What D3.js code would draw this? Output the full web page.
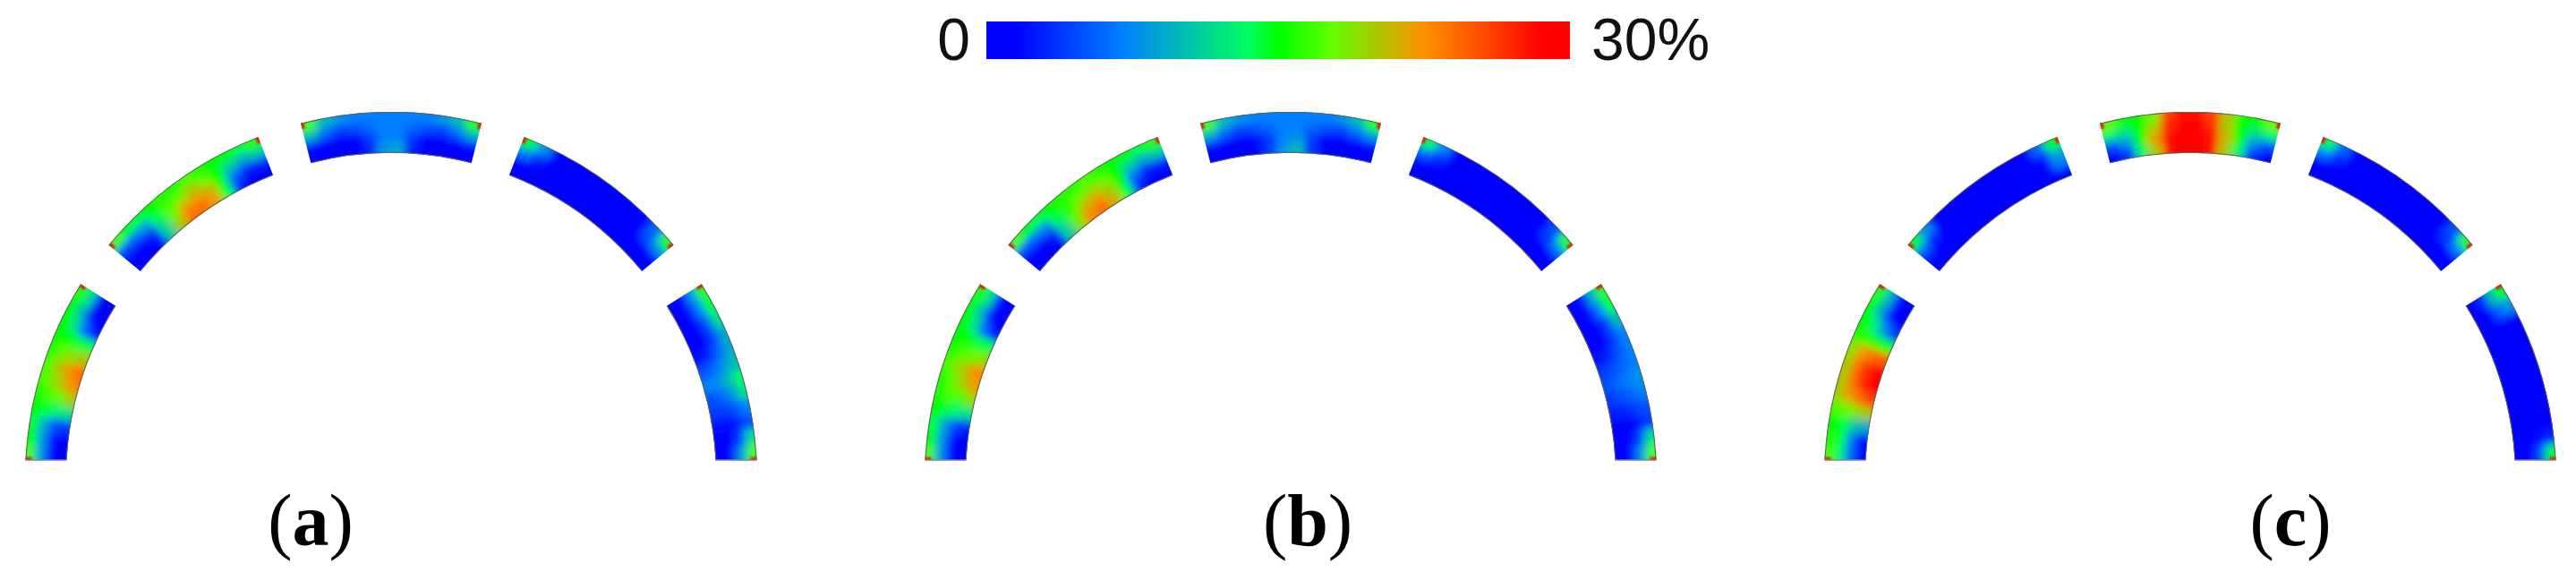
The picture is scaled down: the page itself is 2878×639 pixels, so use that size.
<!DOCTYPE html>
<html>
<head>
<meta charset="utf-8">
<style>
  html, body { margin: 0; background: #fff; }
  svg { display: block; }
</style>
</head>
<body>
<div class="chart"></div>
<script src="https://cdn.jsdelivr.net/npm/d3@7"></script>
<script>
// strain values in %, one array per arc segment
// rows run outer edge -> inner edge, columns run clockwise along the arc
const a1 = [[17,8,2,1],[15,8,2,1],[14,9,5,4],[15,14,13,12],[16,17,18,20],[17,19,21,23],[17,20,22,24],[16,18,19,20],[15,15,14,14],[15,12,6,2],[15,10,2,1],[16,12,2,1]];
const a2 = [[17,5,1,0],[15,6,1,0],[14,8,3,1],[15,14,12,11],[16,17,18,20],[16,18,22,24],[17,20,22,24],[16,18,21,22],[15,15,15,14],[15,11,6,3],[14,9,3,1],[16,11,3,1]];
const a3 = [[17,10,2,0],[10,6,1,0],[8,4,0,0],[7,5,1,0],[7,6,4,3],[7,7,7,8],[7,7,7,9],[7,6,4,3],[7,5,1,0],[8,4,0,0],[10,6,1,0],[16,9,2,0]];
const a4 = [[15,7,1,0],[8,3,0,0],[1,0,0,0],[0,0,0,0],[0,0,0,0],[0,0,0,0],[0,0,0,0],[0,0,0,0],[0,0,0,0],[1,0,0,0],[6,5,1,0],[16,8,1,0]];
const a5 = [[16,8,2,0],[14,7,2,1],[12,5,1,0],[9,4,1,1],[9,6,3,2],[10,8,6,5],[13,10,8,7],[12,8,6,5],[7,5,4,4],[5,3,2,2],[12,4,1,1],[17,8,2,1]];

const b1 = [[17,8,2,1],[15,8,2,1],[14,9,5,3],[15,14,13,12],[16,17,17,19],[16,18,20,22],[17,19,21,23],[16,17,18,19],[15,15,14,14],[15,12,6,2],[15,10,2,1],[16,12,2,1]];
const b2 = [[17,5,1,0],[15,6,1,0],[14,8,3,1],[15,14,12,11],[16,16,17,19],[16,18,21,23],[17,19,22,24],[16,18,20,21],[15,15,15,14],[15,11,6,3],[14,9,3,1],[16,11,3,1]];
const b3 = [[17,9,2,0],[10,6,1,0],[8,4,0,0],[7,5,1,0],[7,6,4,4],[7,7,7,8],[7,7,8,10],[7,6,4,4],[7,5,1,0],[8,4,0,0],[10,6,1,0],[16,8,2,0]];
const b4 = [[14,6,1,0],[7,3,0,0],[1,0,0,0],[0,0,0,0],[0,0,0,0],[0,0,0,0],[0,0,0,0],[0,0,0,0],[0,0,0,0],[0,0,0,0],[5,4,1,0],[16,7,1,0]];
const b5 = [[16,9,2,0],[14,7,2,1],[10,4,1,0],[7,4,1,0],[7,5,3,2],[7,6,5,4],[8,7,6,5],[7,6,5,4],[5,4,3,3],[4,2,1,1],[12,4,1,1],[17,8,2,1]];

const c1 = [[17,13,6,1],[16,14,6,2],[15,14,11,9],[17,18,19,20],[20,22,24,26],[20,24,27,29],[20,24,27,29],[19,22,24,25],[16,16,15,15],[15,13,8,4],[15,9,2,1],[16,10,2,0]];
const c2 = [[15,6,2,1],[8,3,1,0],[1,1,0,0],[0,0,0,0],[0,0,0,0],[0,0,0,0],[0,0,0,0],[0,0,0,0],[0,0,0,0],[1,0,0,0],[6,2,0,0],[15,9,7,1]];
const c3 = [[18,13,5,1],[15,12,8,4],[15,15,15,13],[18,20,22,20],[26,27,28,28],[28,30,30,30],[28,30,30,30],[26,27,28,28],[20,20,21,20],[15,15,15,13],[15,12,8,4],[18,13,5,1]];
const c4 = [[14,7,1,0],[6,3,0,0],[0,0,0,0],[0,0,0,0],[0,0,0,0],[0,0,0,0],[0,0,0,0],[0,0,0,0],[0,0,0,0],[0,0,0,0],[5,4,0,0],[16,7,1,0]];
const c5 = [[15,10,3,0],[8,6,1,0],[1,0,0,0],[0,0,0,0],[0,0,0,0],[0,0,0,0],[0,0,0,0],[0,0,0,0],[0,0,0,0],[0,0,0,0],[3,2,0,0],[15,5,1,0]];

const panels = [[a1, a2, a3, a4, a5], [b1, b2, b3, b4, b5], [c1, c2, c3, c4, c5]];
const panelLetters = ["a", "b", "c"];

// segment ends in degrees from the top of the arch
const segStart = [-87.2, -50.5, -14.3, 21.3, 58];
const segEnd = [-58, -21.3, 14.3, 50.5, 87.2];

const legendLabels = ["0", "30%"];
const colorDomain = [0, 1.5, 7, 11.5, 13.5, 15, 17.7, 20, 22.5, 26, 28.5, 30];
const colorRange = ["#0000ff", "#0000ff", "#0080ff", "#00d890", "#00ff60", "#00ff00", "#60ff00", "#a8c800", "#ff9000", "#ff4000", "#ff0000", "#ff0000"];

const width = 2878;
const height = 639;
const centerX = d3.scalePoint().domain(panelLetters).range([437, 2447]);
const centerY = 534;
const baseY = 514;
const rOuter = 409;
const rInner = 363;

const colorScale = d3.scaleLinear().domain(colorDomain).range(colorRange).clamp(true);
const rad = d3.scaleLinear().domain([0, 180]).range([0, Math.PI]);

const svg = d3.select(".chart").append("svg")
    .attr("width", width)
    .attr("height", height);

const defs = svg.append("defs");

defs.append("filter")
    .attr("id", "soft")
    .append("feGaussianBlur")
    .attr("stdDeviation", 5);

defs.append("filter")
    .attr("id", "softCorner")
    .append("feGaussianBlur")
    .attr("stdDeviation", 0.8);

// everything under the flat foot of the arch is cut away
defs.append("clipPath")
    .attr("id", "foot")
    .append("rect")
    .attr("x", -rOuter - 20)
    .attr("y", -rOuter - 20)
    .attr("width", 2 * rOuter + 40)
    .attr("height", rOuter + 20 + baseY - centerY);

const arc = d3.arc();

function segPath(i) {
    // the two end segments run past the foot, the clip trims them flat
    const s = i === 0 ? -95 : segStart[i];
    const e = i === 4 ? 95 : segEnd[i];
    return arc({
        innerRadius: rInner,
        outerRadius: rOuter,
        startAngle: rad(s),
        endAngle: rad(e)
    });
}

d3.range(5).forEach(i => {
    defs.append("clipPath")
        .attr("id", "seg" + i)
        .append("path")
        .attr("d", segPath(i));
});

panels.forEach((segments, p) => {
    const g = svg.append("g")
        .attr("transform", `translate(${centerX(panelLetters[p])},${centerY})`)
        .append("g")
        .attr("clip-path", "url(#foot)");

    segments.forEach((values, i) => {
        const nCols = values.length;
        const nRows = values[0].length;
        const angle = d3.scaleLinear().domain([0, nCols]).range([segStart[i], segEnd[i]]);
        const radius = d3.scaleLinear().domain([0, nRows]).range([rOuter, rInner]);

        // the grid runs past the segment on each side so the blur stays solid at the edge
        const cells = [];
        d3.range(-3, nCols + 3).forEach(c => {
            d3.range(-3, nRows + 3).forEach(r => {
                const v = values[Math.max(0, Math.min(nCols - 1, c))][Math.max(0, Math.min(nRows - 1, r))];
                cells.push({c: c, r: r, v: v});
            });
        });

        const seg = g.append("g").attr("clip-path", `url(#seg${i})`);

        seg.append("g")
            .attr("filter", "url(#soft)")
            .selectAll("path")
            .data(cells)
            .enter()
            .append("path")
            .attr("d", d => arc({
                innerRadius: radius(d.r + 1) - 0.5,
                outerRadius: radius(d.r) + 0.5,
                startAngle: rad(angle(d.c)) - 0.001,
                endAngle: rad(angle(d.c + 1)) + 0.001
            }))
            .attr("fill", d => colorScale(d.v));

        // small red tips on the outer corners
        const tips = [segStart[i], segEnd[i]];
        seg.append("g")
            .attr("filter", "url(#softCorner)")
            .selectAll("path")
            .data(tips)
            .enter()
            .append("path")
            .attr("d", (d, k) => arc({
                innerRadius: rOuter - 7,
                outerRadius: rOuter + 1,
                startAngle: rad(k === 0 ? d - 0.6 : d - 0.5),
                endAngle: rad(k === 0 ? d + 0.5 : d + 0.6)
            }))
            .attr("fill", "#e8200c");

        // grey outline on the curved sides
        seg.selectAll(".edge")
            .data([rOuter, rInner])
            .enter()
            .append("path")
            .attr("class", "edge")
            .attr("d", d => arc({
                innerRadius: d,
                outerRadius: d,
                startAngle: rad(i === 0 ? -95 : segStart[i]),
                endAngle: rad(i === 4 ? 95 : segEnd[i])
            }))
            .attr("fill", "none")
            .attr("stroke", "#5f5f5f")
            .attr("stroke-width", 2);
    });
});

// foot lines of the arches
panelLetters.forEach(letter => {
    const dy = centerY - baseY;
    [-1, 1].forEach(side => {
        svg.append("line")
            .attr("x1", centerX(letter) + side * Math.sqrt(rOuter * rOuter - dy * dy))
            .attr("x2", centerX(letter) + side * Math.sqrt(rInner * rInner - dy * dy))
            .attr("y1", baseY)
            .attr("y2", baseY)
            .attr("stroke", "#8a8a8a")
            .attr("stroke-width", 1.5);
    });
});

// colour legend
const legendScale = d3.scaleLinear().domain([0, 30]).range([1102, 1754]);

const gradient = defs.append("linearGradient").attr("id", "legendFill");
gradient.selectAll("stop")
    .data(colorDomain)
    .enter()
    .append("stop")
    .attr("offset", d => (d / 30 * 100) + "%")
    .attr("stop-color", d => colorScale(d));

svg.append("rect")
    .attr("x", legendScale(0))
    .attr("y", 24)
    .attr("width", legendScale(30) - legendScale(0))
    .attr("height", 42)
    .attr("fill", "url(#legendFill)");

svg.selectAll(".legendLabel")
    .data(legendLabels)
    .enter()
    .append("text")
    .attr("class", "legendLabel")
    .attr("x", (d, i) => i === 0 ? legendScale(0) - 18 : legendScale(30) + 24)
    .attr("y", 67)
    .attr("text-anchor", (d, i) => i === 0 ? "end" : "start")
    .attr("font-family", "Liberation Sans")
    .attr("font-size", 66)
    .attr("fill", "#111")
    .text(d => d);

// panel letters
const letterX = [347, 1461, 2559];
const letters = svg.selectAll(".panelLabel")
    .data(panelLetters)
    .enter()
    .append("text")
    .attr("class", "panelLabel")
    .attr("x", (d, i) => letterX[i])
    .attr("y", 609)
    .attr("text-anchor", "middle")
    .attr("font-family", "Liberation Serif")
    .attr("font-size", 82)
    .attr("fill", "#000");

letters.append("tspan").text("(");
letters.append("tspan").attr("font-weight", "bold").text(d => d);
letters.append("tspan").text(")");
</script>
</body>
</html>
